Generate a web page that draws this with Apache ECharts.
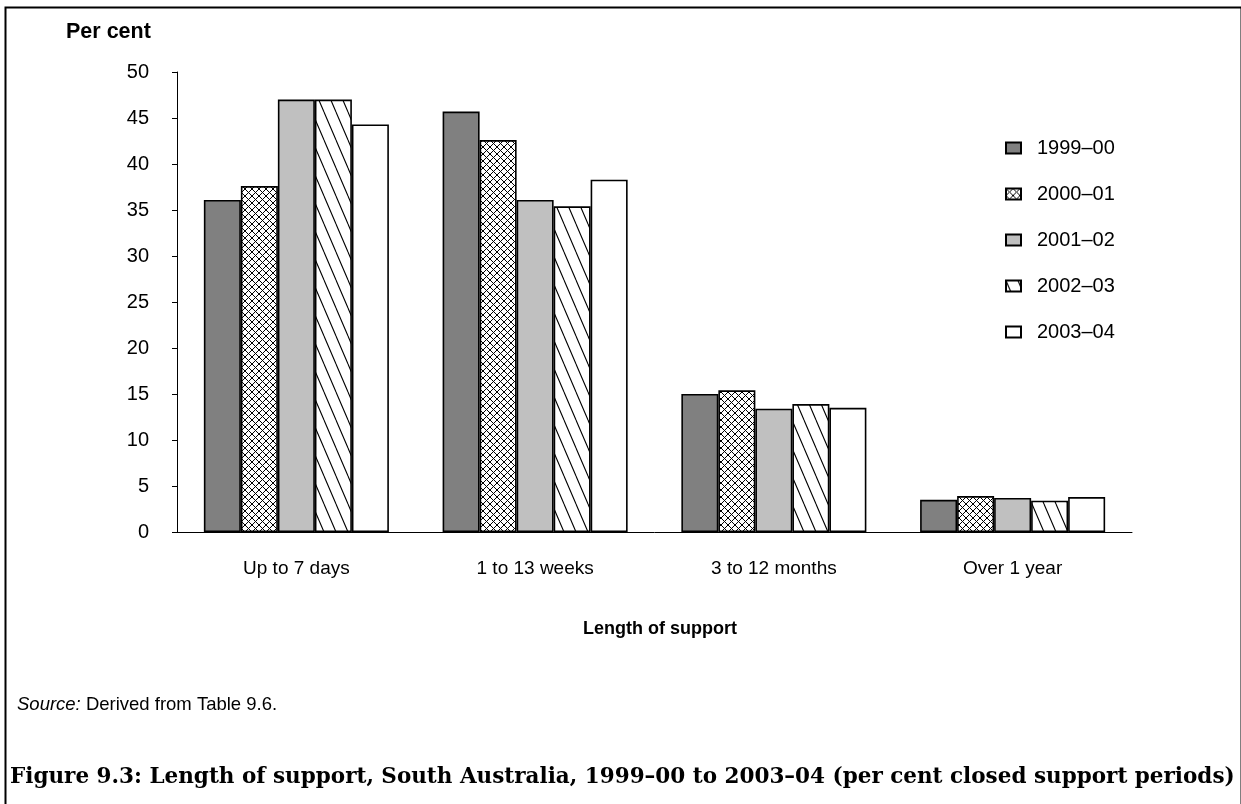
<!DOCTYPE html>
<html>
<head>
<meta charset="utf-8">
<script src="https://cdn.jsdelivr.net/npm/echarts@6/dist/echarts.min.js"></script>
<style>
  html, body { margin: 0; padding: 0; background: #fff; }
  #chart { width: 1241px; height: 804px; }
</style>
</head>
<body>
<div id="chart"></div>
<script>
// Length-of-support categories and yearly shares (per cent of closed support periods)
var categories = ['Up to 7 days', '1 to 13 weeks', '3 to 12 months', 'Over 1 year'];
var years = ['1999–00', '2000–01', '2001–02', '2002–03', '2003–04'];
var v1999 = [36.1, 45.7, 15.0, 3.5];
var v2000 = [37.6, 42.6, 15.4, 3.9];
var v2001 = [47.0, 36.1, 13.4, 3.7];
var v2002 = [47.0, 35.4, 13.9, 3.4];
var v2003 = [44.3, 38.3, 13.5, 3.8];
var yTicks = [0, 5, 10, 15, 20, 25, 30, 35, 40, 45, 50];

// Fill patterns for the hatched series
function crossHatch() {
  var s = 7, c = document.createElement('canvas');
  c.width = s; c.height = s;
  var g = c.getContext('2d');
  g.fillStyle = '#fff'; g.fillRect(0, 0, s, s);
  g.strokeStyle = '#000'; g.lineWidth = 1;
  g.beginPath();
  g.moveTo(0, 0); g.lineTo(s, s);
  g.moveTo(s, 0); g.lineTo(0, s);
  g.stroke();
  return c;
}
function diagHatch() {
  var w = 12, h = 28, c = document.createElement('canvas');
  c.width = w; c.height = h;
  var g = c.getContext('2d');
  g.fillStyle = '#fff'; g.fillRect(0, 0, w, h);
  g.strokeStyle = '#000'; g.lineWidth = 1.1;
  g.beginPath();
  for (var k = -1; k <= 1; k++) {
    g.moveTo(k * w, 0); g.lineTo(k * w + w, h);
  }
  g.stroke();
  return c;
}

var fills = [
  '#808080',
  { image: crossHatch(), repeat: 'repeat' },
  '#c0c0c0',
  { image: diagHatch(), repeat: 'repeat' },
  '#ffffff'
];
var values = [v1999, v2000, v2001, v2002, v2003];

var series = years.map(function (name, i) {
  return {
    name: name,
    type: 'bar',
    data: values[i],
    barGap: '0%',
    barCategoryGap: '22.5%',
    itemStyle: { color: fills[i], borderColor: '#000', borderWidth: 1.6 }
  };
});

var font = 'Liberation Sans, Arial, sans-serif';
var chart = echarts.init(document.getElementById('chart'));
chart.setOption({
  animation: false,
  backgroundColor: '#fff',
  grid: { left: 177, right: 109, top: 72, bottom: 272, containLabel: false },
  legend: {
    orient: 'vertical',
    left: 1000,
    top: 132,
    itemWidth: 15,
    itemHeight: 11,
    itemGap: 24,
    icon: 'rect',
    textStyle: { fontFamily: font, fontSize: 20, color: '#000', lineHeight: 22, padding: [0, 0, 0, 11] },
    data: years
  },
  xAxis: {
    type: 'category',
    data: categories,
    axisLine: { lineStyle: { color: '#000', width: 1 } },
    axisTick: { show: false },
    axisLabel: { fontFamily: font, fontSize: 19, color: '#000', margin: 27 },
    name: 'Length of support',
    nameLocation: 'middle',
    nameGap: 88,
    nameTextStyle: { fontFamily: font, fontSize: 18, fontWeight: 'bold', color: '#000', padding: [0, 0, 0, 11] }
  },
  yAxis: {
    type: 'value',
    min: yTicks[0],
    max: yTicks[yTicks.length - 1],
    interval: 5,
    splitLine: { show: false },
    axisLine: { show: true, lineStyle: { color: '#000', width: 1 } },
    axisTick: { show: true, length: 5, lineStyle: { color: '#000' } },
    axisLabel: { fontFamily: font, fontSize: 20, color: '#000', margin: 28 }
  },
  graphic: [
    {
      type: 'rect', left: 3, top: 5, silent: true,
      shape: { width: 1236, height: 830 },
      style: { fill: 'none', stroke: '#000', lineWidth: 2 }
    },
    {
      type: 'text', left: 66, top: 21,
      style: { text: 'Per cent', font: 'bold 21.5px ' + font, fill: '#000' }
    },
    {
      type: 'text', left: 17, top: 695,
      style: {
        text: '{i|Source:} Derived from Table 9.6.',
        rich: { i: { fontStyle: 'italic', fontFamily: font, fontSize: 18.5, fill: '#000' } },
        font: '18.5px ' + font, fill: '#000'
      }
    },
    {
      type: 'text', left: 10, top: 766,
      style: {
        text: 'Figure 9.3: Length of support, South Australia, 1999–00 to 2003–04 (per cent closed support periods)',
        font: 'bold 21.5px "DejaVu Serif", "Liberation Serif", serif', fill: '#000'
      }
    }
  ],
  series: series
});
</script>
</body>
</html>
